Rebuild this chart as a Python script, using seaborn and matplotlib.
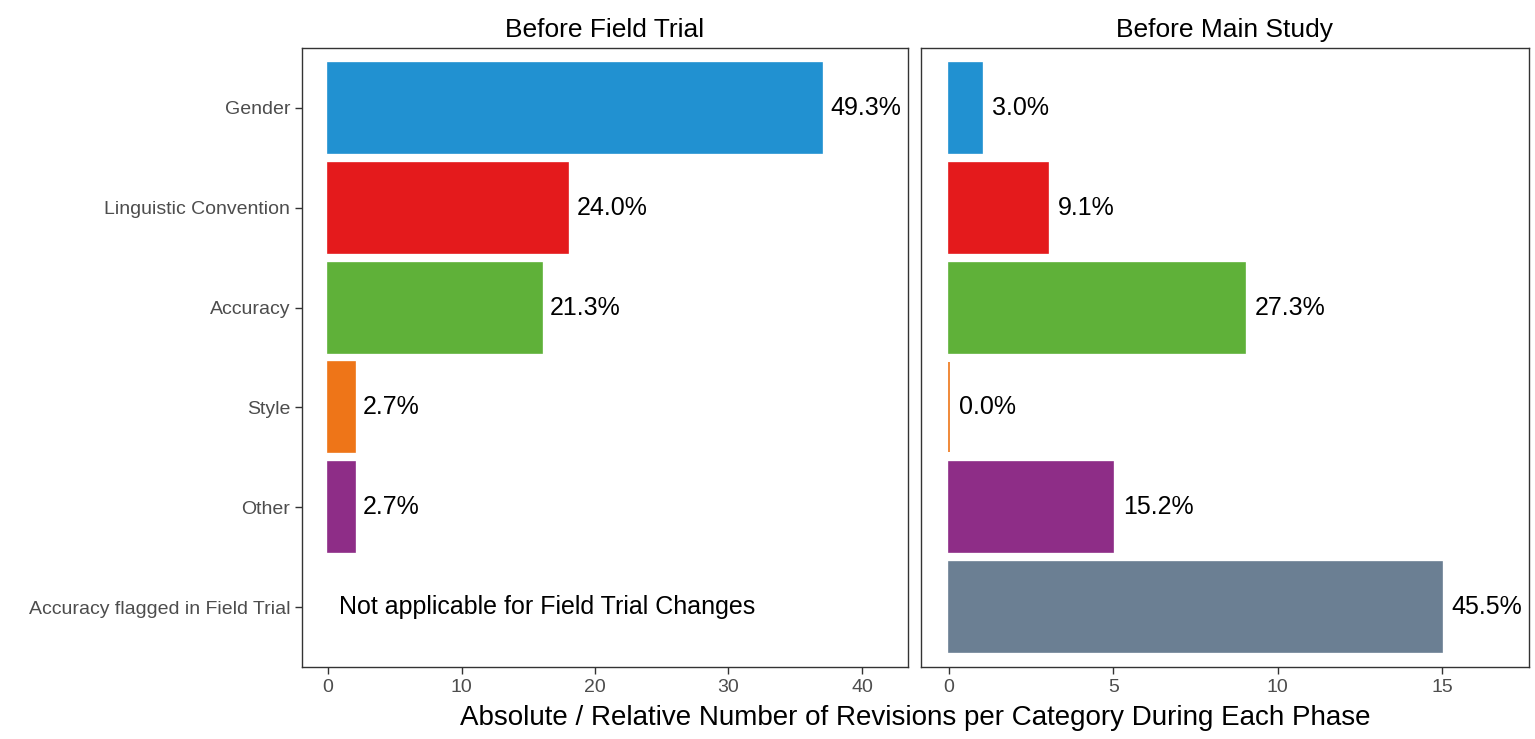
import numpy as np
import pandas as pd
import seaborn as sns
import matplotlib.pyplot as plt

categories = ['Gender', 'Linguistic Convention', 'Accuracy', 'Style', 'Other',
              'Accuracy flagged in Field Trial']
field_trial = [37, 18, 16, 2, 2, 0]
main_study = [1, 3, 9, 0, 5, 15]
field_labels = ['49.3%', '24.0%', '21.3%', '2.7%', '2.7%', None]
main_labels = ['3.0%', '9.1%', '27.3%', '0.0%', '15.2%', '45.5%']
colors = ['#2191D1', '#E41A1C', '#5FB139', '#EE7518', '#8E2D87', '#6B7F93']

sns.set_style('white')
plt.rcParams['font.family'] = ['Liberation Sans', 'DejaVu Sans']

fig = plt.figure(figsize=(15.35, 7.39), dpi=100)
W, H = 1535, 739
ax1 = fig.add_axes([302 / W, 1 - 667 / H, 606 / W, 619 / H])
ax2 = fig.add_axes([921 / W, 1 - 667 / H, 608 / W, 619 / H])

palette = dict(zip(categories, colors))

def panel(ax, vals, labels, title, xlim, ticks, pad, n):
    df = pd.DataFrame({'cat': categories, 'n': vals}).iloc[:n]
    sns.barplot(data=df, x='n', y='cat', hue='cat', palette=palette, order=categories,
                orient='h', width=0.9, saturation=1, legend=False, ax=ax)
    for p in ax.patches:
        p.set_edgecolor(p.get_facecolor())
        p.set_linewidth(1.2)
    for i, (v, lab) in enumerate(zip(vals, labels)):
        if lab is not None:
            ax.text(v + pad, i, lab, va='center', ha='left', fontsize=18, color='black')
    ax.set_xlim(*xlim)
    ax.set_ylim(5.6, -0.6)
    ax.set_xticks(ticks)
    ax.set_title(title, fontsize=19, color='black', pad=8)
    ax.set_xlabel('')
    ax.set_ylabel('')
    for s in ax.spines.values():
        s.set_color('#333333')
        s.set_linewidth(1)
    ax.tick_params(axis='both', length=5, width=1, color='#333333',
                   labelsize=14, labelcolor='#4d4d4d', left=True, bottom=True)

panel(ax1, field_trial, field_labels, 'Before Field Trial', (-1.95, 43.45),
      [0, 10, 20, 30, 40], 0.6, 5)
ax1.text(0.8, 5, 'Not applicable for Field Trial Changes', va='center', ha='left',
         fontsize=18, color='black')
panel(ax2, main_study, main_labels, 'Before Main Study', (-0.85, 17.65),
      [0, 5, 10, 15], 0.3, 6)
ax2.set_yticklabels([])
ax2.tick_params(axis='y', left=False)

fig.text((302 + 1529) / 2 / W, 1 - 718 / H,
         'Absolute / Relative Number of Revisions per Category During Each Phase',
         ha='center', va='center', fontsize=20, color='black')

fig.savefig('out.png', dpi=100)
